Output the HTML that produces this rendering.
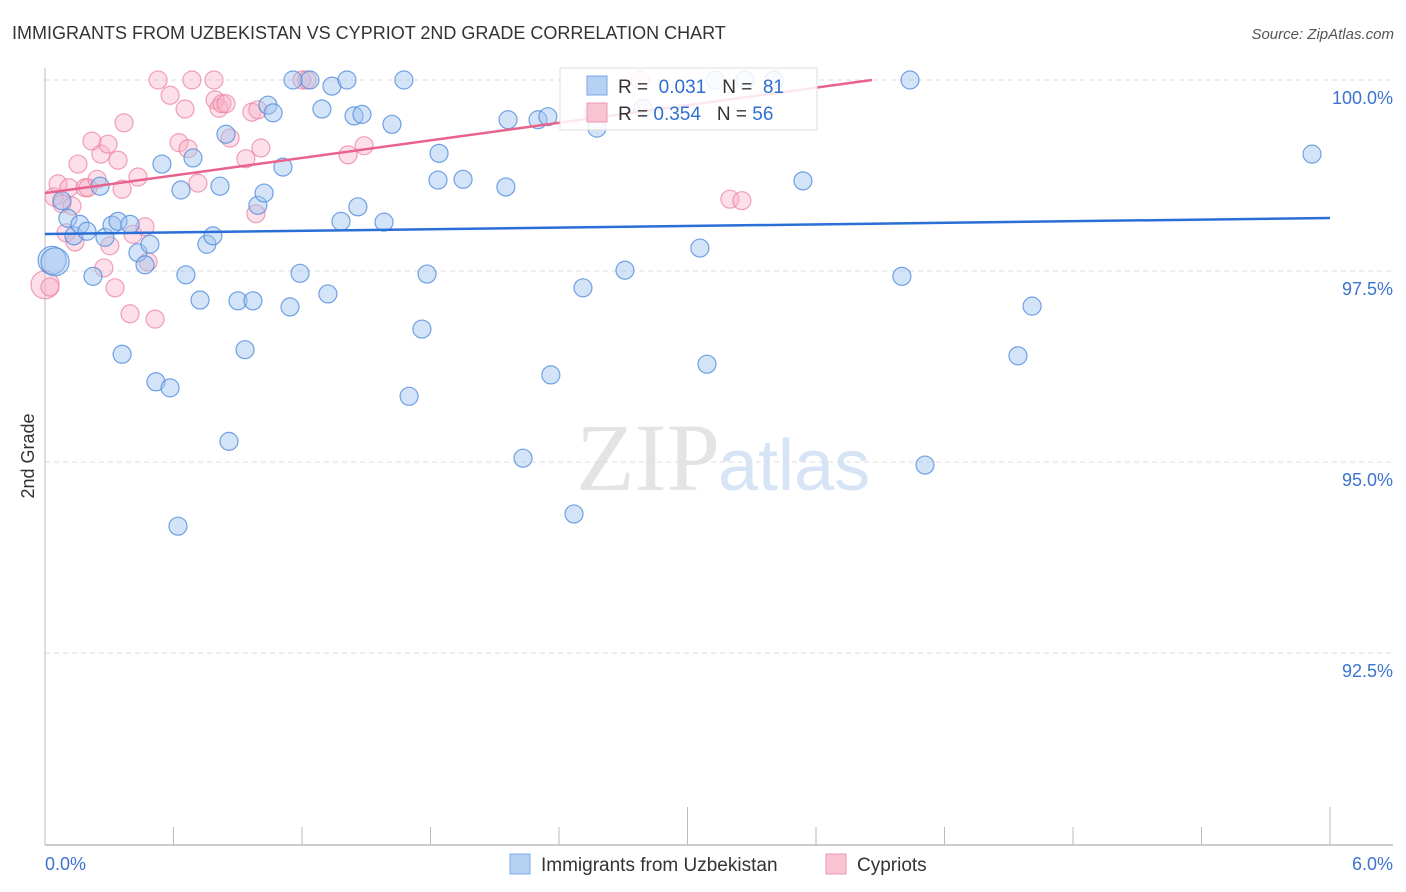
<!DOCTYPE html>
<html><head><meta charset="utf-8"><style>
body{margin:0;background:#fff;font-family:"Liberation Sans",sans-serif;}
svg{display:block}
</style></head><body>
<svg id="chart" width="1406" height="892" xmlns="http://www.w3.org/2000/svg">
<text x="12" y="39" font-size="18" fill="#333">IMMIGRANTS FROM UZBEKISTAN VS CYPRIOT 2ND GRADE CORRELATION CHART</text>
<text x="1394" y="39" font-size="15" fill="#555" font-style="italic" text-anchor="end">Source: ZipAtlas.com</text>
<text x="720" y="490" font-size="96" fill="#e4e4e4" font-family="Liberation Serif" text-anchor="end">ZIP</text>
<text x="718" y="490" font-size="72" fill="#d6e4f5">atlas</text>
<text transform="translate(34,456) rotate(-90)" font-size="18" fill="#333" text-anchor="middle">2nd Grade</text>
<g id="grid"></g><g id="axes"></g><g id="pts"></g><g id="lines"></g>
<g>
<rect x="560" y="68" width="257" height="62" fill="#fff" fill-opacity="0.85" stroke="#ddd"/>
<rect x="587" y="76" width="20" height="19" fill="#b7d1f3" stroke="#7aa6e6"/>
<rect x="587" y="103" width="20" height="19" fill="#f8c3d2" stroke="#ef9ab3"/>
<text x="618" y="93" font-size="19" fill="#333">R = <tspan fill="#2f6fd0">&#160;0.031</tspan><tspan dx="16">N = </tspan><tspan fill="#2f6fd0">&#160;81</tspan></text>
<text x="618" y="120" font-size="19" fill="#333">R = <tspan fill="#2f6fd0">0.354</tspan><tspan dx="16">N = </tspan><tspan fill="#2f6fd0">56</tspan></text>
</g>
<g>
<rect x="510" y="854" width="20" height="20" fill="#b7d1f3" stroke="#7aa6e6"/>
<text x="541" y="871" font-size="19" fill="#333">Immigrants from Uzbekistan</text>
<rect x="826" y="854" width="20" height="20" fill="#f8c3d2" stroke="#ef9ab3"/>
<text x="857" y="871" font-size="19" fill="#333">Cypriots</text>
</g>
</svg>
<script>
const blueX=[0.033,0.047,0.079,0.107,0.135,0.163,0.196,0.224,0.257,0.280,0.313,0.341,0.360,0.397,0.434,0.467,0.490,0.518,0.546,0.584,0.621,0.635,0.658,0.691,0.724,0.756,0.784,0.817,0.845,0.859,0.901,0.934,0.971,0.994,1.023,1.041,1.065,1.111,1.144,1.158,1.191,1.237,1.293,1.321,1.340,1.382,1.410,1.443,1.461,1.480,1.583,1.620,1.676,1.700,1.760,1.784,1.835,1.840,1.952,2.152,2.162,2.232,2.302,2.348,2.362,2.470,2.512,2.577,2.708,2.792,3.058,3.091,3.128,3.268,3.404,3.539,4.001,4.039,4.109,4.543,4.609,5.916];
const blueY=[97.64,97.62,98.42,98.19,97.96,98.11,98.02,97.43,98.61,97.94,98.10,98.15,96.41,98.11,97.74,97.58,97.85,96.05,98.90,95.97,94.16,98.56,97.45,98.98,97.12,97.85,97.96,98.61,99.29,95.27,97.11,96.47,97.11,98.36,98.52,99.67,99.57,98.86,97.03,100,97.47,100,99.62,97.20,99.92,98.15,100,99.53,98.34,99.55,98.14,99.42,100,95.86,96.74,97.46,98.69,99.04,98.70,98.60,99.48,95.05,99.48,99.52,96.14,94.32,97.28,99.37,97.51,99.63,97.80,96.28,100,100,100,98.68,97.43,100,94.96,96.39,97.04,99.03];
const pinkX=[0.0,0.023,0.042,0.061,0.079,0.098,0.112,0.126,0.140,0.154,0.187,0.201,0.219,0.243,0.261,0.275,0.294,0.303,0.327,0.341,0.360,0.369,0.397,0.411,0.434,0.467,0.481,0.514,0.528,0.584,0.626,0.654,0.668,0.686,0.714,0.789,0.794,0.812,0.826,0.845,0.864,0.938,0.966,0.985,0.994,1.008,1.200,1.223,1.415,1.490,2.559,2.778,3.198,3.254];
const pinkY=[97.32,97.29,98.47,98.64,98.38,98.00,98.59,98.35,97.88,98.90,98.59,98.59,99.20,98.70,99.03,97.54,99.16,97.83,97.28,98.95,98.57,99.44,96.94,97.98,98.73,98.08,97.62,96.87,100,99.80,99.18,99.62,99.10,100,98.65,100,99.74,99.63,99.69,99.69,99.24,98.97,99.58,98.25,99.61,99.11,100,100,99.02,99.14,99.57,100,98.44,98.42];
const bigBlue=[0,1], bigPink=[0];
const blueTrend=[97.984,98.194];   // y at x=0 and x=6
const pinkTrend=[98.52,100.82];
const yTicks=[100,97.5,95,92.5];
const yTickLabels=["100.0%","97.5%","95.0%","92.5%"];
const X0=45,X1=1330,Y100=80,PX_PER=191/2.5;
const sx=v=>X0+(v/6)*(X1-X0);
const sy=v=>Y100+(100-v)*PX_PER;
const NS="http://www.w3.org/2000/svg";
function mk(tag,attrs,parent){const e=document.createElementNS(NS,tag);for(const k in attrs)e.setAttribute(k,attrs[k]);parent.appendChild(e);return e;}
const grid=document.getElementById('grid'),axes=document.getElementById('axes'),pts=document.getElementById('pts'),lines=document.getElementById('lines');
yTicks.forEach((t,i)=>{
 const l=mk('line',{x1:X0,x2:1393,y1:sy(t),y2:sy(t),stroke:'#ddd','stroke-dasharray':'5,4'},grid);
 
 
 const tx=mk('text',{x:1393,y:sy(t)+24,'font-size':18,fill:'#3d74cf','text-anchor':'end'},grid);
 tx.textContent=yTickLabels[i];
 
 
});
const ya=mk('line',{x1:X0,x2:X0,y1:68,y2:845,stroke:'#bbb'},axes);


const xa=mk('line',{x1:X0,x2:1393,y1:845,y2:845,stroke:'#bbb','stroke-width':1.5},axes);


for(let i=0;i<=10;i++){
 const v=i*0.6;const tall=(i==5||i==10);
 const t=mk('line',{x1:sx(v),x2:sx(v),y1:tall?807:827,y2:845,stroke:'#bbb'},axes);
 
 
}
const xl0=mk('text',{x:X0,y:870,'font-size':18,fill:'#3d74cf'},axes);xl0.textContent='0.0%';


const xl1=mk('text',{x:1393,y:870,'font-size':18,fill:'#3d74cf','text-anchor':'end'},axes);xl1.textContent='6.0%';


function drawSeries(X,Y,big,fill,stroke,name){
 X.forEach((x,i)=>{
  const c=mk('circle',{cx:sx(x),cy:sy(Y[i]),r:big.includes(i)?14:9,fill:fill,stroke:stroke,'stroke-width':1.2},pts);
  
  
 });
}
drawSeries(pinkX,pinkY,bigPink,'rgba(248,175,198,0.4)','rgba(236,130,162,0.75)','cypriot-point');
drawSeries(blueX,blueY,bigBlue,'rgba(160,196,240,0.45)','rgba(80,140,220,0.8)','uzbekistan-point');
const bl=mk('line',{x1:sx(0),y1:sy(blueTrend[0]),x2:sx(6),y2:sy(blueTrend[1]),stroke:'#2a6fd6','stroke-width':2.5},lines);


const slope=(pinkTrend[1]-pinkTrend[0])/6;const xEnd=Math.min(6,(100-pinkTrend[0])/slope);
const pl=mk('line',{x1:sx(0),y1:sy(pinkTrend[0]),x2:sx(xEnd),y2:sy(pinkTrend[0]+slope*xEnd),stroke:'#e9628c','stroke-width':2.5},lines);


</script>
</body></html>
